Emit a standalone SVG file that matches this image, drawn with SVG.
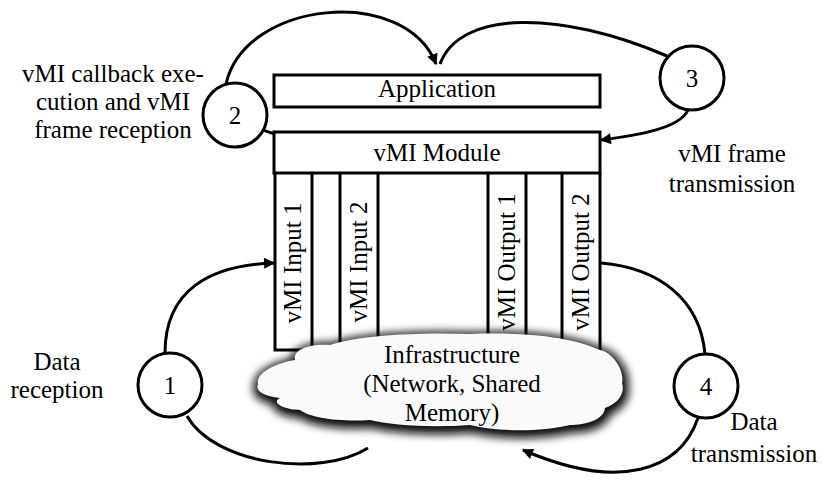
<svg xmlns="http://www.w3.org/2000/svg" width="822" height="480" viewBox="0 0 822 480">
  <style>
    .t { font-family: "Liberation Serif", "Times New Roman", serif; font-size: 25px; fill: #000; }
    .m { text-anchor: middle; }
    .box { fill: #fff; stroke: #000; stroke-width: 3; }
    .col { fill: none; stroke: #000; stroke-width: 3; }
    .circ { fill: #fff; stroke: #000; stroke-width: 3; }
    .con { fill: none; stroke: #000; stroke-width: 3; }
  </style>
  <defs>
    <marker id="arrow" viewBox="0 0 10 10" refX="9" refY="5" markerWidth="14" markerHeight="11" markerUnits="userSpaceOnUse" orient="auto">
      <path d="M0,0 L10,5 L0,10 z" fill="#000"/>
    </marker>
    <filter id="blur" x="-20%" y="-30%" width="140%" height="160%">
      <feGaussianBlur stdDeviation="4"/>
    </filter>
    <path id="cloudShape" d="M258,384 C255,372 280,362 295,360 C292,350 310,343 330,345 C360,335 420,332 470,334 C520,332 570,336 600,350 C612,352 625,370 622,383 C626,395 615,405 605,408 C604,420 585,425 570,425 C540,432 500,432 470,425 C430,428 390,425 370,420 C340,422 310,418 300,410 C285,410 270,403 280,398 C262,396 255,390 258,384 Z"/>
  </defs>

  <g id="application">
    <rect class="box" x="274" y="75" width="326" height="32"/>
    <text class="t m" x="437" y="97">Application</text>
  </g>

  <g id="vmi-module">
    <rect class="box" x="274" y="132" width="326" height="41"/>
    <text class="t m" x="437" y="161">vMI Module</text>
  </g>

  <g id="vmi-input-1">
    <path class="col" d="M275,173 V350 H312 V173"/>
    <text class="t m" transform="translate(293,263) rotate(-90)" y="8">vMI Input 1</text>
  </g>
  <g id="gap-1">
    <path class="col" d="M340,173 V352"/>
  </g>
  <g id="vmi-input-2">
    <path class="col" d="M378,173 V352"/>
    <text class="t m" transform="translate(359,262) rotate(-90)" y="8">vMI Input 2</text>
  </g>
  <g id="vmi-output-1">
    <path class="col" d="M488,173 V352 M526,173 V352"/>
    <text class="t m" transform="translate(507,262) rotate(-90)" y="8">vMI Output 1</text>
  </g>
  <g id="vmi-output-2">
    <path class="col" d="M562,173 V352 M600,173 V352"/>
    <text class="t m" transform="translate(581,262) rotate(-90)" y="8">vMI Output 2</text>
  </g>

  <g id="infrastructure">
    <use href="#cloudShape" fill="#111" stroke="#111" stroke-width="10" filter="url(#blur)" transform="translate(1,3)"/>
    <use href="#cloudShape" fill="#fafafa"/>
    <text class="t m" x="452" y="363">Infrastructure</text>
    <text class="t m" x="452" y="392">(Network, Shared</text>
    <text class="t m" x="452" y="421">Memory)</text>
  </g>

  <g id="connectors">
    <path class="con" d="M165,353 C165,290 210,265 274,263" marker-end="url(#arrow)"/>
    <path class="con" d="M187,416 C215,465 320,478 368,448"/>
    <path class="con" d="M226,84 C245,0 405,-15 436,64" marker-end="url(#arrow)"/>
    <path class="con" d="M261,129 Q267,132 275,134"/>
    <path class="con" d="M440,64 C460,10 560,10 667,56"/>
    <path class="con" d="M688,110 C680,128 640,135 601,140" marker-end="url(#arrow)"/>
    <path class="con" d="M601,263 C660,268 700,300 705,354"/>
    <path class="con" d="M698,418 C680,470 620,492 523,450" marker-end="url(#arrow)"/>
  </g>

  <g id="step-1">
    <circle class="circ" cx="170" cy="385" r="32"/>
    <text class="t m" x="170" y="394">1</text>
  </g>
  <g id="step-2">
    <circle class="circ" cx="235" cy="115" r="32"/>
    <text class="t m" x="235" y="124">2</text>
  </g>
  <g id="step-3">
    <circle class="circ" cx="692" cy="78" r="32"/>
    <text class="t m" x="692" y="87">3</text>
  </g>
  <g id="step-4">
    <circle class="circ" cx="706" cy="386" r="32"/>
    <text class="t m" x="706" y="395">4</text>
  </g>

  <g id="labels">
    <text class="t m" x="113" y="82">vMI callback exe-</text>
    <text class="t m" x="113" y="110">cution and vMI</text>
    <text class="t m" x="113" y="138">frame reception</text>
    <text class="t m" x="732" y="162">vMI frame</text>
    <text class="t m" x="732" y="192">transmission</text>
    <text class="t m" x="57" y="370">Data</text>
    <text class="t m" x="57" y="398">reception</text>
    <text class="t m" x="754" y="430">Data</text>
    <text class="t m" x="754" y="462">transmission</text>
  </g>
</svg>
